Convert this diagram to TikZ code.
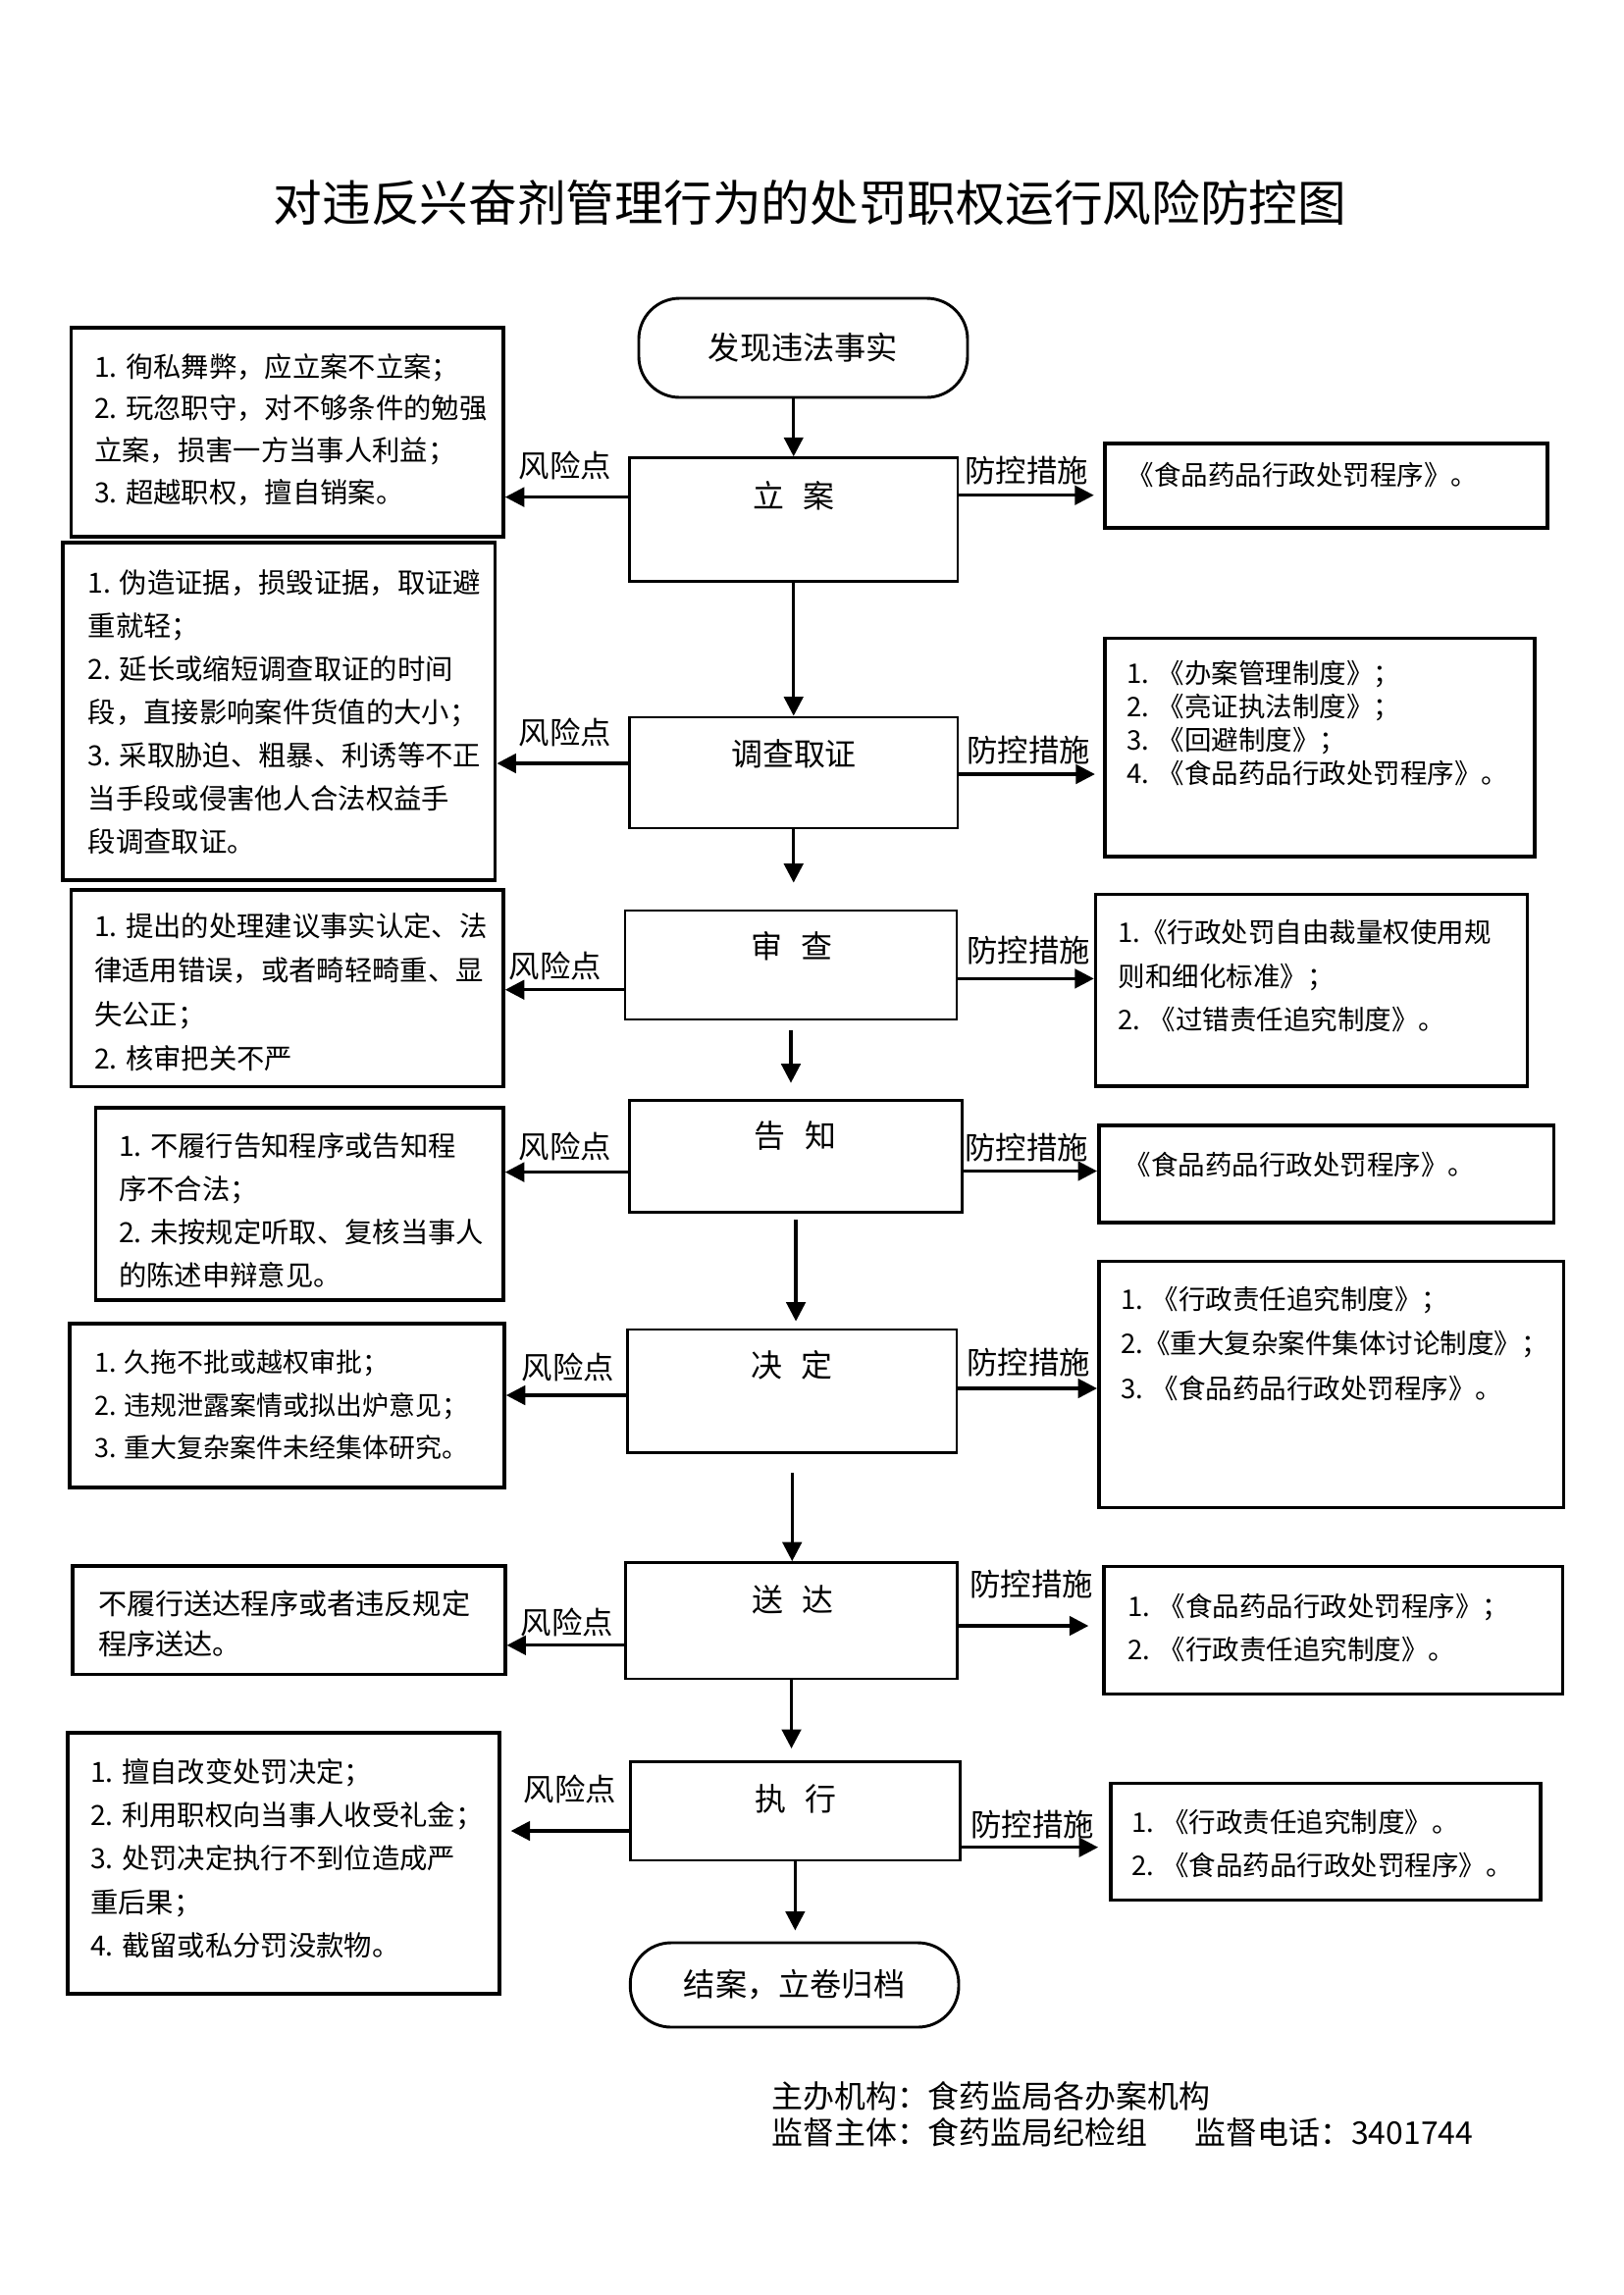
\documentclass[tikz,border=0pt]{standalone}
\usepackage{fontspec}
\setmainfont{Noto Sans CJK SC}
\usetikzlibrary{arrows.meta}
\newcommand\mkbox[7]{\node[#1, minimum width={(#5-#3)*0.36pt}, minimum height={(#6-#4)*0.36pt}] (#2) at ({(#3+#5)/2},{(#4+#6)/2}) {#7};}
\newcommand\fst{\rule{0pt}{0.88em}}
\newcommand\fsz[2]{\fontsize{#1pt}{#2pt}\selectfont}
\begin{document}
\begin{tikzpicture}[x={(0.36pt,0pt)},y={(0pt,-0.36pt)},
  rbox/.style={draw, line width=1.3pt, inner sep=0pt, rectangle},
  pbox/.style={draw, line width=1.05pt, inner sep=0pt, rectangle},
  term/.style={draw, line width=1.05pt, rounded corners=15pt, inner sep=0pt, font=\fsz{11.6}{14}},
  arr/.style={line width=1.2pt, -{Triangle[length=7pt,width=7pt]}},
  plab/.style={inner sep=0pt, font=\fsz{11.5}{14}},
  lab/.style={inner sep=0pt, font=\fsz{11.3}{14}},
  rt/.style={anchor=north west, inner sep=0pt, align=left},
  mt/.style={anchor=north west, inner sep=0pt, align=left}]
\fill[white] (0,0) rectangle (1654,2339);
\useasboundingbox (0,0) rectangle (1654,2339);

% title
\node[inner sep=0pt, font=\fsz{17.9}{21}] (title) at (825.5,207) {对违反兴奋剂管理行为的处罚职权运行风险防控图};

% terminals
\mkbox{term}{s}{651}{304}{986}{405}{发现违法事实}
\mkbox{term}{e}{642.3}{1980}{977}{2066}{结案，立卷归档}

% process boxes
\mkbox{pbox}{p1}{641.5}{466.7}{976}{592.5}{}
\mkbox{pbox}{p2}{641.5}{731}{976}{844}{}
\mkbox{pbox}{p3}{637}{928}{975}{1039}{}
\mkbox{pbox}{p4}{641.5}{1121.8}{980.7}{1235.8}{}
\mkbox{pbox}{p5}{639.5}{1355}{975}{1480.4}{}
\mkbox{pbox}{p6}{637.9}{1592.6}{975.2}{1711}{}
\mkbox{pbox}{p7}{642.3}{1795.4}{978.4}{1896}{}
\node[plab] (p1t) at (809,505.5) {立\hspace{0.6em}案};
\node[plab] (p2t) at (809,768.5) {调查取证};
\node[plab] (p3t) at (807,964) {审\hspace{0.6em}查};
\node[plab] (p4t) at (810.5,1157) {告\hspace{0.6em}知};
\node[plab] (p5t) at (807,1391) {决\hspace{0.6em}定};
\node[plab] (p6t) at (808,1630) {送\hspace{0.6em}达};
\node[plab] (p7t) at (811,1833) {执\hspace{0.6em}行};

% risk boxes
\mkbox{rbox}{r1}{72.5}{333.7}{513}{546.8}{}
\mkbox{rbox}{r2}{64.3}{553}{504.6}{897}{}
\mkbox{rbox}{r3}{72.5}{907}{513}{1107.6}{}
\mkbox{rbox}{r4}{97.5}{1129}{513}{1325}{}
\mkbox{rbox}{r5}{70.7}{1349}{514}{1516}{}
\mkbox{rbox}{r6}{73.8}{1595.7}{514.7}{1706.4}{}
\mkbox{rbox}{r7}{68.7}{1766}{508.8}{2032}{}

\node[rt, font=\fsz{10.2}{15.37}] (r1t) at (95.7,358.5) {\fst 1. 徇私舞弊，应立案不立案；\\2. 玩忽职守，对不够条件的勉强\\立案，损害一方当事人利益；\\3. 超越职权，擅自销案。};
\node[rt, font=\fsz{10.2}{15.84}] (r2t) at (89.3,578.6) {\fst 1. 伪造证据，损毁证据，取证避\\重就轻；\\2. 延长或缩短调查取证的时间\\段，直接影响案件货值的大小；\\3. 采取胁迫、粗暴、利诱等不正\\当手段或侵害他人合法权益手\\段调查取证。};
\node[rt, font=\fsz{10.2}{16.13}] (r3t) at (95.7,929.3) {\fst 1. 提出的处理建议事实认定、法\\律适用错误，或者畸轻畸重、显\\失公正；\\2. 核审把关不严};
\node[rt, font=\fsz{10.2}{15.84}] (r4t) at (120.7,1152.8) {\fst 1. 不履行告知程序或告知程\\序不合法；\\2. 未按规定听取、复核当事人\\的陈述申辩意见。};
\node[rt, font=\fsz{9.7}{15.66}] (r5t) at (95.7,1374.5) {\fst 1. 久拖不批或越权审批；\\2. 违规泄露案情或拟出炉意见；\\3. 重大复杂案件未经集体研究。};
\node[rt, font=\fsz{10.5}{14.76}] (r6t) at (99.5,1619.4) {\fst 不履行送达程序或者违反规定\\程序送达。};
\node[rt, font=\fsz{10.2}{15.93}] (r7t) at (91.6,1790.8) {\fst 1. 擅自改变处罚决定；\\2. 利用职权向当事人收受礼金；\\3. 处罚决定执行不到位造成严\\重后果；\\4. 截留或私分罚没款物。};

% measure boxes
\mkbox{rbox}{m1}{1126}{452}{1577}{538}{}
\mkbox{rbox}{m2}{1126}{650.6}{1564}{873}{}
\mkbox{rbox}{m3}{1116.6}{911.6}{1556.6}{1107}{}
\mkbox{rbox}{m4}{1119.8}{1146.7}{1583.4}{1246}{}
\mkbox{rbox}{m5}{1119.8}{1285.6}{1593.6}{1536.4}{}
\mkbox{rbox}{m6}{1125}{1596.4}{1592.6}{1726.6}{}
\mkbox{rbox}{m7}{1132}{1817.6}{1570}{1936.3}{}

\node[mt, font=\fsz{9.9}{15.84}] (m1t) at (1148,470) {\fst 《食品药品行政处罚程序》。};
\node[mt, font=\fsz{9.9}{12.24}] (m2t) at (1148,671.25) {\fst 1. 《办案管理制度》；\\2. 《亮证执法制度》；\\3. 《回避制度》；\\4. 《食品药品行政处罚程序》。};
\node[mt, font=\fsz{9.9}{16.06}] (m3t) at (1139,936) {\fst 1.《行政处罚自由裁量权使用规\\则和细化标准》；\\2. 《过错责任追究制度》。};
\node[mt, font=\fsz{9.9}{15.84}] (m4t) at (1145,1172.25) {\fst 《食品药品行政处罚程序》。};
\node[mt, font=\fsz{9.9}{16.38}] (m5t) at (1142,1309.25) {\fst 1. 《行政责任追究制度》；\\2.《重大复杂案件集体讨论制度》；\\3. 《食品药品行政处罚程序》。};
\node[mt, font=\fsz{9.9}{15.84}] (m6t) at (1149,1622.25) {\fst 1. 《食品药品行政处罚程序》；\\2. 《行政责任追究制度》。};
\node[mt, font=\fsz{9.9}{15.84}] (m7t) at (1152.5,1842.25) {\fst 1. 《行政责任追究制度》。\\2. 《食品药品行政处罚程序》。};

% vertical flow arrows
\draw[arr] (p1.north |- s.south) -- (p1.north);
\draw[arr] (p1.south) -- (p1.south |- p2.north);
\draw[arr, shorten >=9.7pt] (p2.south) -- (p2.south |- p3.north);
\draw[arr, shorten <=3.6pt, shorten >=6pt] (p3.south) -- (p3.south |- p4.north);
\draw[arr, shorten <=2pt, shorten >=2.5pt] (p4.south) -- (p4.south |- p5.north);
\draw[arr, shorten <=6.8pt] (p5.south) -- (p5.south |- p6.north);
\draw[arr, shorten >=4.3pt] (p6.south) -- (p6.south |- p7.north);
\draw[arr, shorten >=4pt] (p7.south) -- (p7.south |- e.north);

% risk arrows
\coordinate (yr1) at (0,506.6);
\coordinate (yr2) at (0,778);
\coordinate (yr3) at (0,1008.7);
\coordinate (yr4) at (0,1194.6);
\coordinate (yr5) at (0,1422);
\coordinate (yr6) at (0,1676.8);
\coordinate (yr7) at (0,1866);
\draw[arr] (p1.west |- yr1) -- (r1.east |- yr1);
\draw[arr] (p2.west |- yr2) -- (r2.east |- yr2);
\draw[arr] (p3.west |- yr3) -- (r3.east |- yr3);
\draw[arr] (p4.west |- yr4) -- (r4.east |- yr4);
\draw[arr] (p5.west |- yr5) -- (r5.east |- yr5);
\draw[arr] (p6.west |- yr6) -- (r6.east |- yr6);
\draw[arr, shorten >=3.6pt] (p7.west |- yr7) -- (r7.east |- yr7);

\node[lab] (l1) at (576,474) {风险点};
\node[lab] (l2) at (576,746) {风险点};
\node[lab] (l3) at (566,984) {风险点};
\node[lab] (l4) at (576,1168) {风险点};
\node[lab] (l5) at (579,1393) {风险点};
\node[lab] (l6) at (578,1653) {风险点};
\node[lab] (l7) at (581,1823) {风险点};

% measure arrows
\coordinate (ym1) at (0,504.7);
\coordinate (ym2) at (0,789);
\coordinate (ym3) at (0,997.4);
\coordinate (ym4) at (0,1193.5);
\coordinate (ym5) at (0,1415);
\coordinate (ym6) at (0,1657);
\coordinate (ym7) at (0,1882.7);
\draw[arr, shorten >=3.4pt] (p1.east |- ym1) -- (m1.west |- ym1);
\draw[arr, shorten >=3pt] (p2.east |- ym2) -- (m2.west |- ym2);
\draw[arr] (p3.east |- ym3) -- (m3.west |- ym3);
\draw[arr] (p4.east |- ym4) -- (m4.west |- ym4);
\draw[arr] (p5.east |- ym5) -- (m5.west |- ym5);
\draw[arr, shorten >=5pt] (p6.east |- ym6) -- (m6.west |- ym6);
\draw[arr, shorten >=4pt] (p7.east |- ym7) -- (m7.west |- ym7);

\node[lab] (f1) at (1046,480) {防控措施};
\node[lab] (f2) at (1048,764.5) {防控措施};
\node[lab] (f3) at (1048,968.4) {防控措施};
\node[lab] (f4) at (1046,1169.5) {防控措施};
\node[lab] (f5) at (1048,1389) {防控措施};
\node[lab] (f6) at (1051,1614.8) {防控措施};
\node[lab] (f7) at (1052,1859.7) {防控措施};

% footer
\node[anchor=west, inner sep=0pt, font=\fsz{11.5}{14}] (foot1) at (785.7,2136.7) {主办机构：食药监局各办案机构};
\node[anchor=west, inner sep=0pt, font=\fsz{11.5}{14}] (foot2) at (785.7,2173) {监督主体：食药监局纪检组\hspace{1.5em}监督电话：3401744};
\end{tikzpicture}
\end{document}
